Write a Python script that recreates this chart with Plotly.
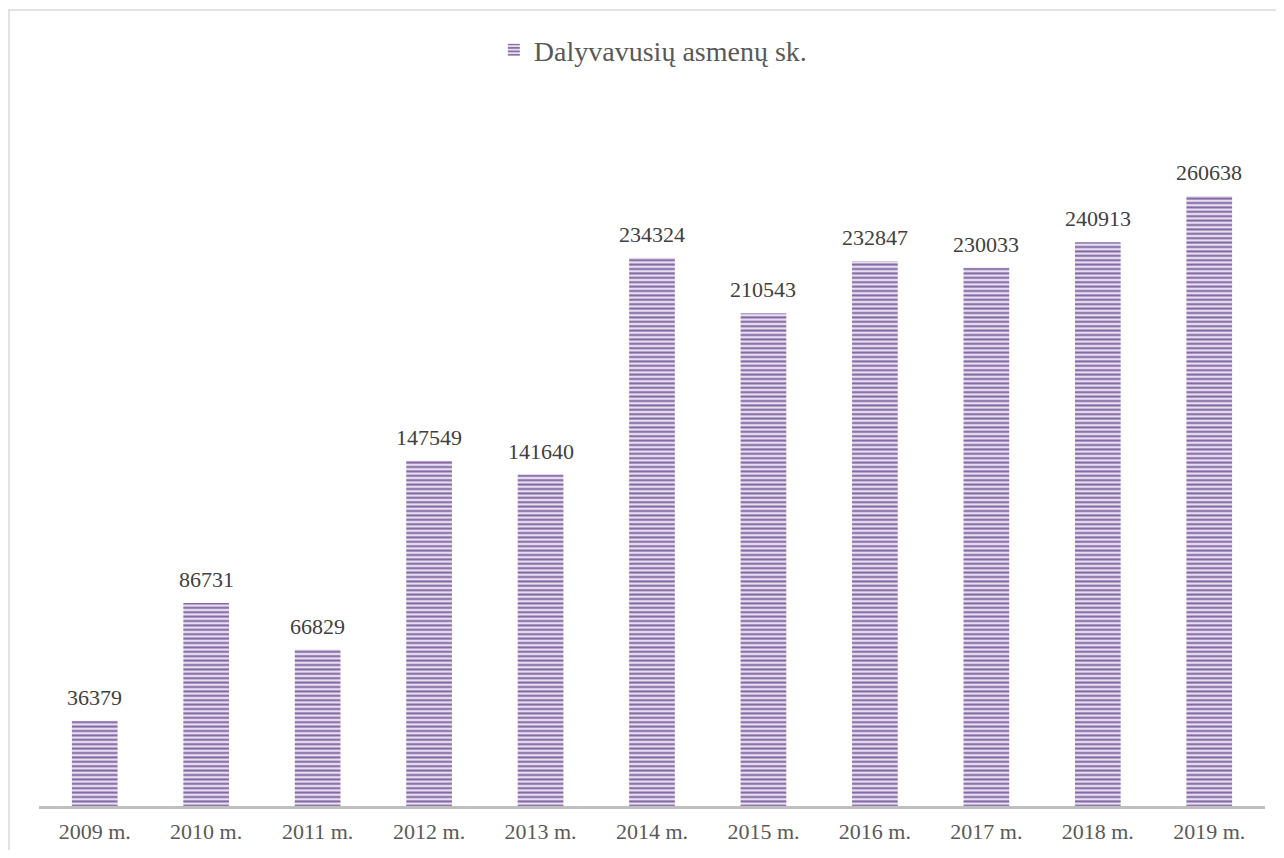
import plotly.graph_objects as go

years = ["2009 m.", "2010 m.", "2011 m.", "2012 m.", "2013 m.", "2014 m.",
         "2015 m.", "2016 m.", "2017 m.", "2018 m.", "2019 m."]
participants = [36379, 86731, 66829, 147549, 141640, 234324,
                210543, 232847, 230033, 240913, 260638]
series_name = "Dalyvavusių asmenų sk."

FONT = "Liberation Serif, DejaVu Serif, serif"
PURPLE = "#8064A2"
LAVENDER = "#E6DFEF"

fig = go.Figure()

fig.add_trace(go.Bar(
    x=years, y=participants,
    name=series_name,
    marker=dict(
        color=LAVENDER,
        line=dict(width=0),
        pattern=dict(shape="-", fgcolor=PURPLE, bgcolor=LAVENDER,
                     size=4.4, solidity=0.45, fillmode="replace"),
    ),
    hoverinfo="x+y",
))

# value labels above bars
for yr, v in zip(years, participants):
    fig.add_annotation(
        x=yr, y=v, text=str(v),
        showarrow=False, yanchor="bottom", yshift=9,
        font=dict(family=FONT, size=22, color="#404040"),
    )

# light grey chart border
fig.add_shape(type="rect", xref="paper", yref="paper",
              x0=-0.0245, x1=1.05, y0=-0.2, y1=1.134,
              line=dict(color="#D9D9D9", width=1.5), fillcolor="rgba(0,0,0,0)",
              layer="below")

fig.update_layout(
    width=1268, height=842,
    margin=dict(l=31, r=11, t=96, b=44),
    paper_bgcolor="white",
    plot_bgcolor="white",
    bargap=0.59,
    font=dict(family=FONT, color="#595959"),
    showlegend=True,
    legend=dict(
        orientation="h",
        x=0.371, xanchor="left",
        y=1.077, yanchor="middle",
        font=dict(family=FONT, size=28, color="#595959"),
        itemwidth=30,
    ),
    xaxis=dict(
        showgrid=False, ticks="",
        showline=True, linecolor="#BFBFBF", linewidth=3,
        tickfont=dict(family=FONT, size=22, color="#595959"),
        ticklabelstandoff=4,
        automargin=False,
    ),
    yaxis=dict(
        range=[0, 300000], visible=False, showgrid=False, zeroline=False,
        automargin=False,
    ),
)

fig.write_html("out.html")
